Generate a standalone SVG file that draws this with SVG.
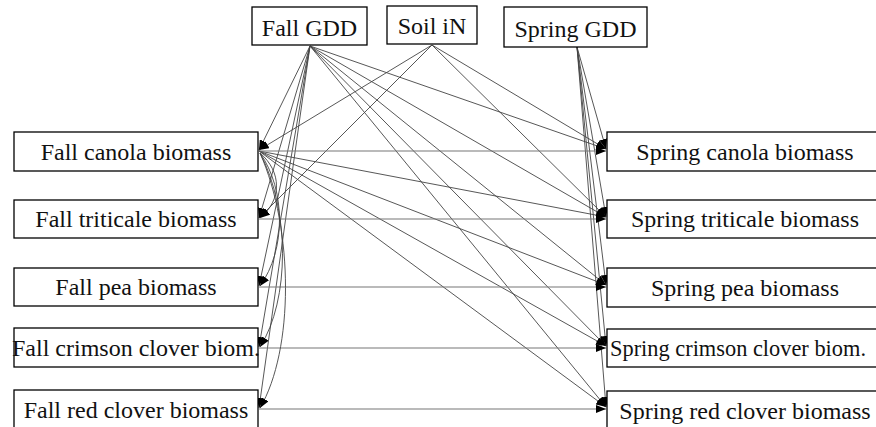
<svg xmlns="http://www.w3.org/2000/svg" width="876" height="427" viewBox="0 0 876 427">
<style>
  .box { fill: #ffffff; stroke: #000000; stroke-width: 1.3; }
  .lbl { font-family: "Liberation Serif", "Times New Roman", serif; font-size: 24px; fill: #111111; text-anchor: middle; }
  .e { fill: none; stroke: #444444; stroke-width: 0.9; marker-end: url(#ah); }
  .h { fill: none; stroke: #777777; stroke-width: 1.1; marker-end: url(#ah); }
</style>
<defs>
  <marker id="ah" markerUnits="userSpaceOnUse" markerWidth="10" markerHeight="8" refX="10" refY="4" orient="auto">
    <path d="M0,0 L10,4 L0,8 Z" fill="#000000"/>
  </marker>
</defs>
<rect x="0" y="0" width="876" height="427" fill="#ffffff"/>
<g id="connectors">
  <line class="e" x1="310" y1="46" x2="259" y2="150"/>
  <line class="e" x1="310" y1="46" x2="259" y2="218"/>
  <line class="e" x1="310" y1="46" x2="259" y2="286"/>
  <line class="e" x1="310" y1="46" x2="259" y2="347"/>
  <line class="e" x1="310" y1="46" x2="259" y2="408"/>
  <line class="e" x1="310" y1="46" x2="606" y2="149"/>
  <line class="e" x1="310" y1="46" x2="606" y2="217"/>
  <line class="e" x1="310" y1="46" x2="606" y2="285"/>
  <line class="e" x1="310" y1="46" x2="606" y2="346"/>
  <line class="e" x1="310" y1="46" x2="606" y2="407"/>
  <line class="e" x1="432" y1="45" x2="259" y2="150"/>
  <line class="e" x1="432" y1="45" x2="259" y2="218"/>
  <line class="e" x1="432" y1="45" x2="606" y2="149"/>
  <line class="e" x1="432" y1="45" x2="606" y2="217"/>
  <line class="e" x1="577" y1="47" x2="606" y2="149"/>
  <line class="e" x1="577" y1="47" x2="606" y2="217"/>
  <line class="e" x1="577" y1="47" x2="606" y2="285"/>
  <line class="e" x1="577" y1="47" x2="606" y2="346"/>
  <line class="e" x1="577" y1="47" x2="606" y2="407"/>
  <line class="e" x1="259" y1="151" x2="606" y2="217"/>
  <line class="e" x1="259" y1="151" x2="606" y2="285"/>
  <line class="e" x1="259" y1="151" x2="606" y2="346"/>
  <line class="e" x1="259" y1="151" x2="606" y2="407"/>
  <line class="h" x1="259" y1="151" x2="606" y2="151"/>
  <line class="h" x1="259" y1="219" x2="606" y2="219"/>
  <line class="h" x1="259" y1="287" x2="606" y2="287"/>
  <line class="h" x1="259" y1="348" x2="606" y2="348"/>
  <line class="h" x1="259" y1="409" x2="606" y2="409"/>
  <path class="e" d="M260,153 C282,172 282,200 260,218"/>
  <path class="e" d="M260,153 C286,190 286,250 260,286"/>
  <path class="e" d="M260,153 C290,210 290,300 260,347"/>
  <path class="e" d="M260,153 C294,230 294,350 260,408"/>
</g>
<g id="node-fall-gdd">
  <rect class="box" x="252" y="7" width="115" height="38"/>
  <text class="lbl" x="309.5" y="36">Fall GDD</text>
</g>
<g id="node-soil-in">
  <rect class="box" x="387" y="6" width="90" height="38"/>
  <text class="lbl" x="432" y="34">Soil iN</text>
</g>
<g id="node-spring-gdd">
  <rect class="box" x="504" y="7" width="143" height="40"/>
  <text class="lbl" x="575.5" y="37">Spring GDD</text>
</g>
<g id="node-fall-canola">
  <rect class="box" x="14" y="132" width="244" height="39"/>
  <text class="lbl" x="136" y="160">Fall canola biomass</text>
</g>
<g id="node-fall-triticale">
  <rect class="box" x="14" y="200" width="244" height="38"/>
  <text class="lbl" x="136" y="227">Fall triticale biomass</text>
</g>
<g id="node-fall-pea">
  <rect class="box" x="14" y="268" width="244" height="38"/>
  <text class="lbl" x="136" y="295">Fall pea biomass</text>
</g>
<g id="node-fall-crimson">
  <rect class="box" x="14" y="328" width="244" height="39"/>
  <text class="lbl" x="136" y="356">Fall crimson clover biom.</text>
</g>
<g id="node-fall-red">
  <rect class="box" x="14" y="390" width="244" height="40"/>
  <text class="lbl" x="136" y="418">Fall red clover biomass</text>
</g>
<g id="node-spring-canola">
  <rect class="box" x="607" y="132" width="277" height="39"/>
  <text class="lbl" x="745" y="160">Spring canola biomass</text>
</g>
<g id="node-spring-triticale">
  <rect class="box" x="607" y="200" width="277" height="38"/>
  <text class="lbl" x="745" y="227">Spring triticale biomass</text>
</g>
<g id="node-spring-pea">
  <rect class="box" x="607" y="268" width="277" height="39"/>
  <text class="lbl" x="745" y="296">Spring pea biomass</text>
</g>
<g id="node-spring-crimson">
  <rect class="box" x="607" y="329" width="277" height="38"/>
  <text class="lbl" x="738" y="356" textLength="256" lengthAdjust="spacingAndGlyphs">Spring crimson clover biom.</text>
</g>
<g id="node-spring-red">
  <rect class="box" x="607" y="391" width="277" height="40"/>
  <text class="lbl" x="745" y="419">Spring red clover biomass</text>
</g>
</svg>
